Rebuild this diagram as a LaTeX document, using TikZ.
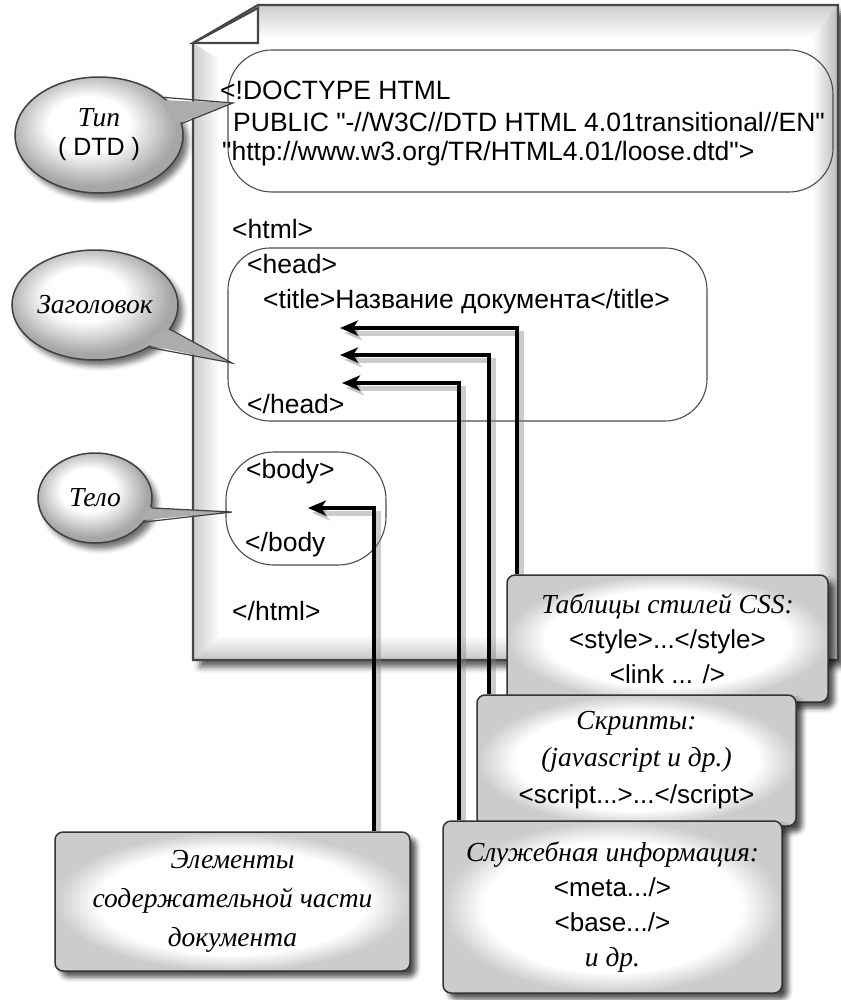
\documentclass[tikz,border=0pt]{standalone}
\usepackage{fontspec}
\setmainfont{Liberation Sans}[Ligatures=TeXOff]
\newfontfamily\serifcyr{Liberation Serif}
\usetikzlibrary{arrows.meta,shapes.geometric,shadows.blur,calc}
\newcommand\cyit{\serifcyr\itshape\fontsize{27.5}{35}\selectfont}
\pgfdeclareradialshading{bubshade}{\pgfpoint{-4bp}{6bp}}{color(0bp)=(white); color(12bp)=(white); color(25bp)=(gray!70); color(50bp)=(gray!70)}
\pgfdeclareradialshading{boxshade}{\pgfpoint{0bp}{0bp}}{color(0bp)=(white); color(19bp)=(white); color(25bp)=(gray!40); color(50bp)=(gray!40)}
\pgfdeclarelayer{fg}
\pgfsetlayers{main,fg}
\tikzset{
  pageline/.style={draw=gray!55!black, line width=2.2pt},
  frame/.style={rectangle, draw=gray!60!black, line width=1.1pt, inner sep=0pt},
  code/.style={anchor=base west, inner sep=0pt, font=\fontsize{26.5}{31}\selectfont},
  bubble/.style={ellipse, draw=gray!50!black, line width=1.5pt, shade, shading=bubshade,
    blur shadow={shadow xshift=5pt, shadow yshift=-6pt, shadow blur radius=5pt, shadow opacity=55},
    inner sep=0pt, align=center},
  tailfill/.style={fill=gray!65},
  tailline/.style={draw=gray!50!black, line width=1.2pt},
  infobox/.style={rectangle, rounded corners=8pt, draw=gray!40!black, line width=1.5pt, shade, shading=boxshade,
    blur shadow={shadow xshift=6pt, shadow yshift=-6pt, shadow blur radius=5pt, shadow opacity=70},
    align=center, inner sep=0pt, font=\fontsize{26}{35}\selectfont},
  conn/.style={line width=3.4pt, -{Stealth[length=18pt,width=15pt,inset=5pt]},
    preaction={draw=gray, opacity=.4, line width=5pt, transform canvas={xshift=4pt,yshift=-5pt}}},
}
\begin{document}
\begin{tikzpicture}[x=1pt,y=-1pt]
\useasboundingbox (0,0) rectangle (840,1000);
% page
\path[fill=white, blur shadow={shadow xshift=7pt, shadow yshift=-7pt, shadow blur radius=6pt, shadow opacity=65}]
  (193,43) -- (258,5) -- (838,5) -- (838,660) -- (193,660) -- cycle;
\shade[top color=gray!40, bottom color=white] (258,5) -- (838,5) -- (812,38) -- (258,38) -- cycle;
\shade[left color=gray!40, right color=white] (193,43) -- (220,60) -- (220,635) -- (193,660) -- cycle;
\shade[left color=white, right color=gray!55] (838,5) -- (838,660) -- (812,635) -- (812,38) -- cycle;
\shade[top color=white, bottom color=gray!45] (193,660) -- (838,660) -- (812,635) -- (220,635) -- cycle;
\path[pageline] (193,43) -- (258,5) -- (838,5) -- (838,660) -- (193,660) -- cycle;
\path[pageline, fill=white] (193,43) -- (258,8) -- (258,43) -- cycle;
% frames
\node[frame, minimum width=605pt, minimum height=142pt, rounded corners=44pt] (dtbox) at (530.5,121) {};
\node[frame, minimum width=479pt, minimum height=173pt, rounded corners=42pt] (headbox) at (467.5,334.5) {};
\node[frame, minimum width=160pt, minimum height=113pt, rounded corners=48pt] (bodybox) at (306,508.5) {};
% code text
\node[code] (l1) at (220,100) {<!DOCTYPE HTML};
\node[code] (l2) at (233,132) {PUBLIC "-//W3C//DTD HTML 4.01transitional//EN"};
\node[code] (l3) at (222,161) {"http://www.w3.org/TR/HTML4.01/loose.dtd">};
\node[code] (html) at (232,238) {<html>};
\node[code] (head) at (247,273) {<head>};
\node[code] (title) at (263,308) {<title>Название документа</title>};
\node[code] (ehead) at (247,413) {</head>};
\node[code] (body) at (246,478) {<body>};
\node[code] (ebody) at (245,551) {</body};
\node[code] (ehtml) at (232,620) {</html>};
% bubbles
\node[bubble, minimum width=168pt, minimum height=116pt, font=\fontsize{25}{29}\selectfont] (btype) at (99,135) {{\cyit Тип}\\( DTD )};
\coordinate (tipT) at (233,103);
\fill[tailfill] ($(btype.center)!0.93!(btype.30)$) -- (tipT) -- ($(btype.center)!0.93!(btype.8)$) -- cycle;
\draw[tailline] (btype.30) -- (tipT) -- (btype.8);

\node[bubble, minimum width=166pt, minimum height=110pt] (bhead) at (95,305) {\cyit Заголовок};
\coordinate (tipH) at (232,363);
\fill[tailfill] ($(bhead.center)!0.93!(bhead.-18)$) -- (tipH) -- ($(bhead.center)!0.93!(bhead.-38)$) -- cycle;
\draw[tailline] (bhead.-18) -- (tipH) -- (bhead.-38);

\node[bubble, minimum width=114pt, minimum height=90pt] (bbody) at (95,498) {\cyit Тело};
\coordinate (tipB) at (232,512);
\fill[tailfill] ($(bbody.center)!0.93!(bbody.-10)$) -- (tipB) -- ($(bbody.center)!0.93!(bbody.-26)$) -- cycle;
\draw[tailline] (bbody.-10) -- (tipB) -- (bbody.-26);
% boxes
\begin{pgfonlayer}{fg}
\node[infobox, minimum width=321pt, minimum height=127pt] (css) at (667.5,638.5)
  {{\cyit Таблицы стилей CSS:}\\<style>...</style>\\<link ... />};
\node[infobox, minimum width=319pt, minimum height=131pt, font=\fontsize{26}{37}\selectfont] (scr) at (636.5,760.5)
  {{\cyit Скрипты:}\\{\cyit (javascript и др.)}\\<script...>...</script>};
\node[infobox, minimum width=339pt, minimum height=172pt] (srv) at (612.5,907)
  {{\cyit Служебная информация:}\\<meta.../>\\<base.../>\\{\cyit и др.}};
\node[infobox, minimum width=355pt, minimum height=139pt, font=\fontsize{27}{39}\selectfont] (el) at (232.5,901.5)
  {{\cyit Элементы}\\{\cyit содержательной части}\\{\cyit документа}};
\end{pgfonlayer}
% connectors
\coordinate (a1) at (340,328); \coordinate (v1) at (517,0);
\coordinate (a2) at (340,355); \coordinate (v2) at (489,0);
\coordinate (a3) at (342,383); \coordinate (v3) at (459,0);
\coordinate (a4) at (308,508); \coordinate (v4) at (374,0);
\draw[conn] (css.north -| v1) |- (a1);
\draw[conn] (scr.north -| v2) |- (a2);
\draw[conn] (srv.north -| v3) |- (a3);
\draw[conn] (el.north -| v4) |- (a4);
\end{tikzpicture}
\end{document}
